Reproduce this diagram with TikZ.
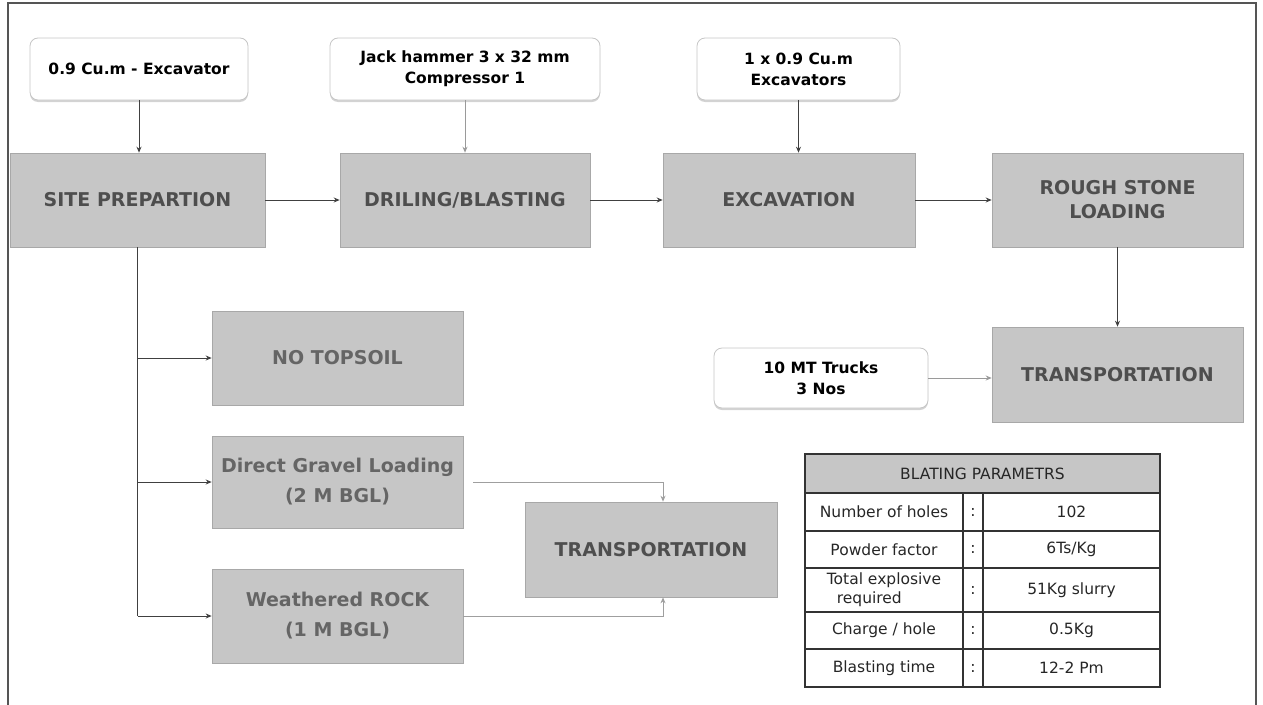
\documentclass[tikz,border=0pt]{standalone}
\usepackage{fontspec}
\setmainfont{DejaVu Sans}
\usetikzlibrary{arrows.meta,shadows}
\definecolor{boxgray}{HTML}{C6C6C6}
\definecolor{boxtext}{HTML}{4E4E4E}
\definecolor{boxtextlight}{HTML}{656565}
\definecolor{linedark}{HTML}{404040}
\definecolor{linelight}{HTML}{9A9A9A}
\definecolor{framecol}{HTML}{555555}
\definecolor{tabline}{HTML}{333333}
\tikzset{
  procbox/.style={rectangle, fill=boxgray, draw=boxgray!85!black, line width=0.6pt,
    text=boxtext, font=\fontsize{19}{23}\selectfont\bfseries, align=center, inner sep=2pt},
  lightproc/.style={procbox, text=boxtextlight},
  resbox/.style={rectangle, rounded corners=8pt, fill=white, draw=gray!45, line width=0.8pt,
    drop shadow={opacity=0.35, shadow xshift=0pt, shadow yshift=-2pt},
    font=\fontsize{15.5}{21}\selectfont\bfseries, align=center, inner sep=2pt},
  flow/.style={draw=linedark, line width=1pt, -{Stealth[length=6pt,width=5pt]}},
  flowlight/.style={draw=linelight, line width=1pt, -{Stealth[length=6pt,width=5pt]}},
  plain/.style={draw=linedark, line width=1pt},
  cell/.style={rectangle, draw=tabline, line width=1.1pt, inner sep=1pt,
    font=\fontsize{15.5}{19}\selectfont, text=black!85, align=center},
}
\begin{document}
\begin{tikzpicture}[x=1pt,y=-1pt]
\useasboundingbox (0,0) rectangle (1263,704);
% frame
\draw[framecol, line width=1.2pt] (8,710) -- (8,3) -- (1256,3) -- (1256,710);

% resource boxes
\node[resbox, minimum width=218pt, minimum height=62pt] (ex1) at (139,69) {0.9 Cu.m - Excavator};
\node[resbox, minimum width=270pt, minimum height=62pt] (jack) at (465,69) {Jack hammer 3 x 32 mm\\Compressor 1};
\node[resbox, minimum width=203pt, minimum height=62pt] (ex2) at (798.5,69) {1 x 0.9 Cu.m\\Excavators};
\node[resbox, minimum width=214pt, minimum height=60pt] (trucks) at (821,378) {10 MT Trucks\\3 Nos};

% process boxes
\node[procbox, minimum width=255pt, minimum height=94pt] (site) at (137.5,200) {SITE PREPARTION};
\node[procbox, minimum width=250pt, minimum height=94pt] (drill) at (465,200) {DRILING/BLASTING};
\node[procbox, minimum width=252pt, minimum height=94pt] (excav) at (789,200) {EXCAVATION};
\node[procbox, minimum width=251pt, minimum height=94pt, font=\fontsize{19}{24}\selectfont\bfseries] (rough) at (1117.5,200) {ROUGH STONE\\LOADING};
\node[procbox, minimum width=251pt, minimum height=95pt] (trans1) at (1117.5,374.5) {TRANSPORTATION};
\node[lightproc, minimum width=251pt, minimum height=94pt] (notop) at (337.5,358) {NO TOPSOIL};
\node[lightproc, minimum width=251pt, minimum height=92pt] (gravel) at (337.5,482) {Direct Gravel Loading\\[7pt](2 M BGL)};
\node[lightproc, minimum width=251pt, minimum height=94pt] (weath) at (337.5,616) {Weathered ROCK\\[7pt](1 M BGL)};
\node[procbox, minimum width=252pt, minimum height=95pt] (trans2) at (651,549.5) {TRANSPORTATION};

% connectors: resources
\draw[flow] (ex1.south) -- (ex1.south |- site.north);
\draw[flowlight] (jack.south) -- (jack.south |- drill.north);
\draw[flow] (ex2.south) -- (ex2.south |- excav.north);
\draw[flowlight] (trucks.east) -- (trucks.east -| trans1.west);

% main flow
\draw[flow] (site.east) -- (drill.west);
\draw[flow] (drill.east) -- (excav.west);
\draw[flow] (excav.east) -- (rough.west);
\draw[flow] (rough.south) -- (trans1.north);

% site preparation branches
\coordinate (trunk) at (site.south |- weath.west);
\draw[plain] (site.south) -- (trunk);
\draw[flow] (site.south |- notop.west) -- (notop.west);
\draw[flow] (site.south |- gravel.west) -- (gravel.west);
\draw[flow] (trunk) -- (weath.west);

% to lower transportation
\coordinate (tn) at ([xshift=12pt]trans2.north);
\coordinate (ts) at ([xshift=12pt]trans2.south);
\draw[flow, draw=gray!75] ([xshift=10pt]gravel.east) -- (gravel.east -| tn) -- (tn);
\draw[flow, draw=gray!75] (weath.east) -- (weath.east -| ts) -- (ts);

% table
\node[cell, fill=boxgray, minimum width=355pt, minimum height=39pt] (thead) at (982.5,473.5) {BLATING PARAMETRS};
\node[cell, minimum width=158pt, minimum height=38pt] (l1) at (884,512) {Number of holes};
\node[cell, minimum width=20pt, minimum height=38pt] (c1) at (973,512) {:};
\node[cell, minimum width=177pt, minimum height=38pt] (v1) at (1071.5,512) {102};
\node[cell, minimum width=158pt, minimum height=37pt] (l2) at (884,549.5) {Powder factor};
\node[cell, minimum width=20pt, minimum height=37pt] (c2) at (973,549.5) {:};
\node[cell, minimum width=177pt, minimum height=37pt] (v2) at (1071.5,549.5) {6Ts/Kg};
\node[cell, minimum width=158pt, minimum height=44pt, align=left] (l3) at (884,590) {Total explosive\\\hspace*{10pt}required};
\node[cell, minimum width=20pt, minimum height=44pt] (c3) at (973,590) {:};
\node[cell, minimum width=177pt, minimum height=44pt] (v3) at (1071.5,590) {51Kg slurry};
\node[cell, minimum width=158pt, minimum height=37pt] (l4) at (884,630.5) {Charge / hole};
\node[cell, minimum width=20pt, minimum height=37pt] (c4) at (973,630.5) {:};
\node[cell, minimum width=177pt, minimum height=37pt] (v4) at (1071.5,630.5) {0.5Kg};
\node[cell, minimum width=158pt, minimum height=38pt] (l5) at (884,668) {Blasting time};
\node[cell, minimum width=20pt, minimum height=38pt] (c5) at (973,668) {:};
\node[cell, minimum width=177pt, minimum height=38pt] (v5) at (1071.5,668) {12-2 Pm};
\end{tikzpicture}
\end{document}
